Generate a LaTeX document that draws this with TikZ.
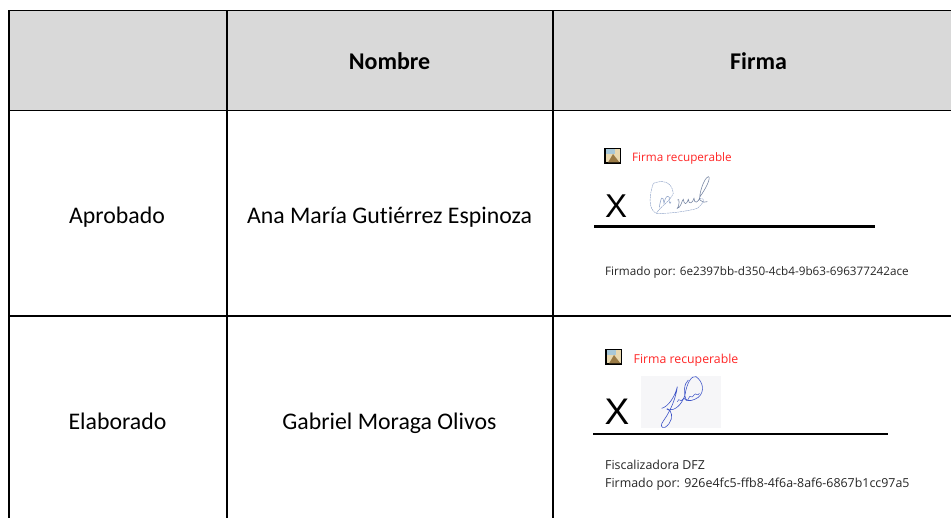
\documentclass[tikz,border=0pt]{standalone}
\usepackage{fontspec}
\setmainfont[Ligatures=NoCommon]{Carlito}
\newfontfamily\uifont{Open Sans}
\newfontfamily\xfont{Liberation Sans}
\definecolor{headgray}{HTML}{D9D9D9}
\definecolor{sigblue}{HTML}{8FA3C8}
\definecolor{sigdark}{HTML}{3F55C8}
\definecolor{sigbg}{HTML}{F6F6F8}
\definecolor{icontan}{HTML}{E8D8B0}
\definecolor{iconbrown}{HTML}{9A7A45}
\definecolor{iconsky}{HTML}{A8C8D8}
\tikzset{
  grid/.style={draw=black,line width=1.6pt},
  cell/.style={font=\fontsize{23.8}{26}\selectfont,anchor=base,inner sep=0pt},
  head/.style={font=\fontsize{24}{26}\selectfont\bfseries,anchor=base,inner sep=0pt},
  red label/.style={font=\uifont\fontsize{11.7}{14}\selectfont,text=red!85!white,anchor=base west,inner sep=0pt},
  small/.style={font=\uifont\fontsize{11.7}{14}\selectfont,text=black!85,anchor=base west,inner sep=0pt},
  bigx/.style={font=\xfont\fontsize{33}{36}\selectfont,anchor=base,inner sep=0pt},
}
\newcommand{\pictureicon}[2]{%
  \fill[black] (#1,#2) rectangle ++(17,16);
  \fill[icontan] (#1+1.5,#2+1.5) rectangle ++(14,13);
  \fill[iconsky] (#1+1.5,#2+1.5) rectangle ++(9,5);
  \fill[iconbrown] (#1+4,#2+14.5) -- (#1+9,#2+6) -- (#1+15.5,#2+14.5) -- cycle;
}
\begin{document}
\begin{tikzpicture}[x=1pt,y=-1pt]
\useasboundingbox (0,0) rectangle (951,518);
\fill[white] (0,0) rectangle (951,518);
\fill[headgray] (9,10.5) rectangle (951,110.5);
\draw[grid] (951,10.5) -- (9,10.5) -- (9,518);
\draw[grid] (9,110.5) -- (951,110.5);
\draw[grid] (9,316) -- (951,316);
\draw[grid] (227,10.5) -- (227,518);
\draw[grid] (553,10.5) -- (553,518);
\node[head] (nombre) at (389.5,69.8) {Nombre};
\node[head] (firma) at (758.5,69.8) {Firma};
\node[cell] (aprobado) at (117,223.6) {Aprobado};
\node[cell] (ana) at (389.5,223.6) {Ana María Gutiérrez Espinoza};
\node[cell] (elaborado) at (117.5,429.3) {Elaborado};
\node[cell] (gabriel) at (389.5,429.3) {Gabriel Moraga Olivos};
% first signature
\pictureicon{604}{148}
\node[red label] (r1) at (632,161.8) {Firma recuperable};
\node[bigx] (x1) at (616,218) {X};
\draw[line width=2.3pt] (594,226.5) -- (875,226.5);
\begin{scope}[shift={(590,140)},x=0.3333pt,y=-0.3333pt]
\draw[sigblue,line width=.45pt,dashed,dash pattern=on 2pt off .6pt] (190,130) .. controls (215,120) and (245,122) .. (250,160)
  .. controls (240,185) and (205,205) .. (200,220) .. controls (185,215) and (170,190) .. (190,130);
\draw[sigblue,line width=.45pt,dashed,dash pattern=on 2pt off .6pt] (200,220) .. controls (240,222) and (300,212) .. (322,205) .. controls (340,190) and (350,175) .. (330,176);
\draw[sigblue,line width=.55pt] (208,202) .. controls (212,175) and (218,160) .. (222,190) .. controls (226,170) and (232,165) .. (238,172) .. controls (236,190) and (240,195) .. (243,185);
\draw[sigblue!80!black,line width=.55pt] (262,180) .. controls (270,170) and (268,200) .. (262,205) .. controls (272,205) and (276,180) .. (280,178)
  .. controls (282,195) and (290,195) .. (295,178) .. controls (296,195) and (308,190) .. (312,175) .. controls (312,192) and (325,190) .. (330,170)
  .. controls (345,150) and (365,112) .. (355,110) .. controls (340,115) and (325,170) .. (330,180) .. controls (335,188) and (345,188) .. (352,185);
\end{scope}
\node[small] (f1) at (605,276) {Firmado por: 6e2397bb-d350-4cb4-9b63-696377242ace};
% second signature
\pictureicon{605}{349}
\node[red label,font=\uifont\fontsize{12.3}{14}\selectfont] (r2) at (633.5,363.5) {Firma recuperable};
\fill[sigbg] (641,376) rectangle (721,428);
\node[bigx,font=\xfont\fontsize{37}{38}\selectfont] (x2) at (617,425) {X};
\draw[line width=1.6pt] (593,434) -- (888,434);
\begin{scope}[shift={(590,340)},x=0.3333pt,y=-0.3333pt]
\draw[sigdark,line width=.6pt] (215,205) .. controls (235,200) and (255,170) .. (262,140)
  .. controls (258,175) and (240,215) .. (222,240) .. controls (210,255) and (212,265) .. (225,262)
  .. controls (245,250) and (250,225) .. (240,212) .. controls (235,205) and (225,205) .. (235,210)
  .. controls (255,212) and (275,195) .. (285,165) .. controls (290,130) and (305,105) .. (318,110)
  .. controls (340,125) and (345,155) .. (325,172) .. controls (310,182) and (295,185) .. (288,178)
  .. controls (280,160) and (282,130) .. (295,120);
\draw[sigdark,line width=.5pt] (262,185) .. controls (268,170) and (272,190) .. (278,178) .. controls (284,165) and (288,195) .. (296,175)
  .. controls (300,160) and (305,180) .. (312,165) .. controls (318,155) and (322,172) .. (328,160);
\end{scope}
\node[small,font=\uifont\fontsize{12.4}{14}\selectfont] (f0) at (605,470) {Fiscalizadora DFZ};
\node[small,font=\uifont\fontsize{12.4}{14}\selectfont] (f2) at (605,488) {Firmado por: 926e4fc5-ffb8-4f6a-8af6-6867b1cc97a5};
\end{tikzpicture}
\end{document}
